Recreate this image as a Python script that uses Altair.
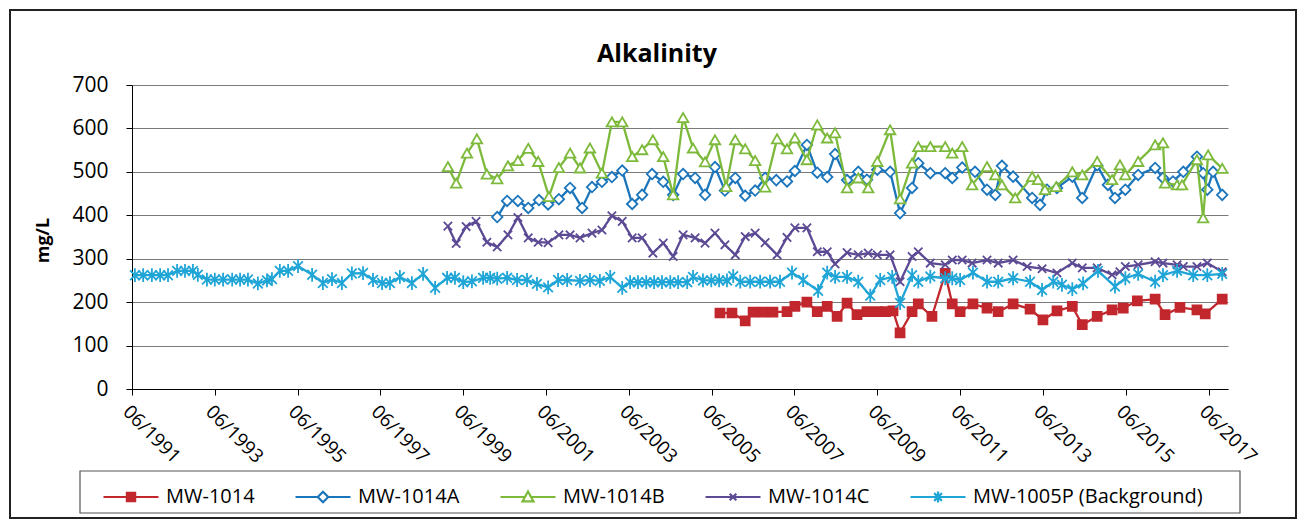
import altair as alt
import pandas as pd

FONT = "Open Sans"

chart_title = "Alkalinity"
series_names = ["MW-1014", "MW-1014A", "MW-1014B", "MW-1014C", "MW-1005P (Background)"]
series_colors = ["#C1272D", "#1B75BB", "#7DBA3C", "#5C4A94", "#1FA5D6"]

tick_years = [1991.5, 1993.5, 1995.5, 1997.5, 1999.5, 2001.5, 2003.5, 2005.5,
              2007.5, 2009.5, 2011.5, 2013.5, 2015.5, 2017.5]
y_ticks = [0, 100, 200, 300, 400, 500, 600, 700]

# MW-1014 (red squares)
mw1014_year = [2005.70, 2005.99, 2006.31, 2006.50, 2006.74, 2006.98, 2007.32, 2007.51, 2007.80,
               2008.05, 2008.29, 2008.53, 2008.77, 2009.01, 2009.25, 2009.50, 2009.70, 2009.88,
               2010.05, 2010.34, 2010.49, 2010.82, 2011.14, 2011.31, 2011.50, 2011.81, 2012.15,
               2012.42, 2012.78, 2013.19, 2013.50, 2013.84, 2014.21, 2014.45, 2014.81, 2015.17,
               2015.44, 2015.78, 2016.21, 2016.45, 2016.81, 2017.22, 2017.42, 2017.83]
mw1014_val = [175, 175, 157, 177, 177, 177, 178, 190, 200,
              178, 190, 167, 198, 171, 178, 178, 178, 180,
              129, 178, 196, 167, 266, 196, 178, 196, 186,
              178, 196, 184, 159, 180, 190, 148, 167, 182,
              186, 203, 207, 171, 188, 182, 173, 207]

# MW-1014A (blue diamonds)
mw1014a_year = [2000.32, 2000.56, 2000.82, 2001.07, 2001.33, 2001.55, 2001.81, 2002.08, 2002.37,
                2002.61, 2002.85, 2003.09, 2003.34, 2003.58, 2003.82, 2004.06, 2004.33, 2004.57,
                2004.81, 2005.10, 2005.34, 2005.58, 2005.82, 2006.07, 2006.31, 2006.55, 2006.79,
                2007.06, 2007.32, 2007.51, 2007.80, 2008.05, 2008.29, 2008.48, 2008.77, 2009.04,
                2009.25, 2009.50, 2009.81, 2010.05, 2010.34, 2010.49, 2010.78, 2011.14, 2011.31,
                2011.55, 2011.86, 2012.15, 2012.35, 2012.51, 2012.78, 2013.24, 2013.43, 2013.60,
                2013.84, 2014.21, 2014.45, 2014.81, 2015.07, 2015.24, 2015.49, 2015.80, 2016.21,
                2016.40, 2016.64, 2016.89, 2017.22, 2017.37, 2017.47, 2017.61, 2017.83]
mw1014a_val = [396, 433, 433, 417, 435, 425, 437, 463, 417,
               465, 477, 488, 503, 426, 447, 495, 477, 447,
               495, 486, 447, 511, 457, 486, 445, 457, 486,
               481, 478, 502, 562, 498, 488, 541, 481, 500,
               482, 505, 500, 405, 463, 520, 497, 497, 486,
               510, 500, 459, 447, 514, 489, 440, 424, 459,
               463, 489, 440, 515, 470, 440, 459, 493, 509,
               486, 478, 500, 535, 497, 459, 500, 447]

# MW-1014B (green triangles)
mw1014b_year = [1999.13, 1999.33, 1999.59, 1999.83, 2000.07, 2000.32, 2000.58, 2000.82, 2001.07,
                2001.31, 2001.57, 2001.81, 2002.08, 2002.32, 2002.56, 2002.85, 2003.09, 2003.34,
                2003.58, 2003.82, 2004.08, 2004.33, 2004.57, 2004.81, 2005.05, 2005.34, 2005.58,
                2005.85, 2006.07, 2006.31, 2006.55, 2006.79, 2007.08, 2007.32, 2007.51, 2007.80,
                2008.05, 2008.29, 2008.48, 2008.77, 2009.04, 2009.28, 2009.50, 2009.81, 2010.05,
                2010.34, 2010.49, 2010.78, 2011.14, 2011.31, 2011.55, 2011.79, 2012.15, 2012.35,
                2012.51, 2012.83, 2013.24, 2013.38, 2013.55, 2013.82, 2014.21, 2014.45, 2014.81,
                2015.17, 2015.36, 2015.49, 2015.80, 2016.21, 2016.40, 2016.45, 2016.74, 2016.86,
                2017.22, 2017.37, 2017.49, 2017.83]
mw1014b_val = [512, 474, 543, 576, 495, 484, 514, 526, 554,
               524, 443, 510, 543, 509, 555, 497, 615, 615,
               535, 551, 574, 535, 447, 625, 555, 523, 574,
               466, 574, 553, 526, 465, 576, 553, 578, 528,
               608, 578, 590, 463, 486, 463, 524, 597, 438,
               520, 558, 558, 558, 543, 558, 470, 512, 493,
               470, 440, 489, 482, 459, 466, 500, 493, 524,
               482, 516, 493, 524, 562, 567, 474, 470, 470,
               528, 394, 539, 508]

# MW-1014C (purple x)
mw1014c_year = [1999.13, 1999.33, 1999.57, 1999.81, 2000.07, 2000.32, 2000.58, 2000.82, 2001.07,
                2001.31, 2001.55, 2001.81, 2002.08, 2002.32, 2002.61, 2002.85, 2003.09, 2003.34,
                2003.58, 2003.82, 2004.08, 2004.33, 2004.57, 2004.81, 2005.10, 2005.34, 2005.58,
                2005.82, 2006.07, 2006.31, 2006.55, 2006.79, 2007.08, 2007.32, 2007.51, 2007.80,
                2008.05, 2008.29, 2008.48, 2008.77, 2009.04, 2009.28, 2009.50, 2009.81, 2010.05,
                2010.34, 2010.49, 2010.78, 2011.14, 2011.31, 2011.55, 2011.79, 2012.15, 2012.42,
                2012.78, 2013.12, 2013.48, 2013.84, 2014.21, 2014.45, 2014.81, 2015.17, 2015.36,
                2015.49, 2015.80, 2016.21, 2016.40, 2016.74, 2016.89, 2017.22, 2017.47, 2017.83]
mw1014c_val = [375, 335, 374, 386, 338, 327, 355, 395, 348,
               338, 337, 355, 355, 348, 359, 366, 399, 386,
               348, 348, 313, 336, 305, 355, 348, 336, 359,
               332, 309, 351, 359, 337, 309, 349, 371, 371,
               316, 316, 288, 314, 309, 313, 309, 309, 247,
               305, 316, 290, 286, 297, 297, 290, 297, 290,
               297, 282, 277, 267, 290, 279, 279, 263, 270,
               282, 286, 293, 290, 286, 282, 282, 290, 270]

# MW-1005P (Background) (cyan asterisks)
mw1005p_year = [1991.57, 1991.77, 1991.98, 1992.18, 1992.37, 1992.59, 1992.78, 1992.97, 1993.09,
                1993.31, 1993.50, 1993.70, 1993.92, 1994.11, 1994.30, 1994.54, 1994.76, 1994.88,
                1995.07, 1995.27, 1995.51, 1995.85, 1996.11, 1996.33, 1996.57, 1996.81, 1997.08,
                1997.32, 1997.54, 1997.73, 1997.97, 1998.26, 1998.53, 1998.82, 1999.11, 1999.30,
                1999.50, 1999.71, 1999.98, 2000.15, 2000.32, 2000.56, 2000.80, 2001.04, 2001.28,
                2001.55, 2001.79, 2002.01, 2002.32, 2002.56, 2002.80, 2003.05, 2003.34, 2003.53,
                2003.72, 2003.92, 2004.11, 2004.30, 2004.50, 2004.69, 2004.91, 2005.05, 2005.29,
                2005.49, 2005.68, 2005.87, 2006.02, 2006.19, 2006.43, 2006.67, 2006.91, 2007.15,
                2007.44, 2007.71, 2008.07, 2008.29, 2008.48, 2008.77, 2009.04, 2009.33, 2009.57,
                2009.86, 2010.05, 2010.34, 2010.49, 2010.78, 2011.14, 2011.31, 2011.50, 2011.81,
                2012.15, 2012.42, 2012.78, 2013.19, 2013.48, 2013.75, 2013.96, 2014.21, 2014.47,
                2014.83, 2015.24, 2015.49, 2015.80, 2016.21, 2016.40, 2016.74, 2017.13, 2017.47,
                2017.83]
mw1005p_val = [262, 262, 262, 262, 262, 272, 272, 272, 263,
               252, 252, 252, 252, 252, 252, 243, 250, 253,
               272, 272, 283, 263, 244, 253, 244, 266, 267,
               251, 244, 244, 258, 244, 265, 233, 256, 256,
               246, 248, 256, 256, 254, 256, 251, 251, 242,
               234, 251, 251, 249, 251, 249, 258, 233, 246,
               246, 246, 246, 246, 246, 246, 246, 258, 250,
               250, 250, 250, 260, 247, 247, 247, 247, 247,
               268, 251, 226, 268, 258, 258, 247, 215, 251,
               258, 198, 262, 247, 259, 255, 255, 251, 268,
               247, 247, 255, 247, 228, 247, 240, 230, 243,
               272, 236, 255, 265, 247, 262, 272, 262, 262,
               265]

series_years = [mw1014_year, mw1014a_year, mw1014b_year, mw1014c_year, mw1005p_year]
series_vals = [mw1014_val, mw1014a_val, mw1014b_val, mw1014c_val, mw1005p_val]

# marker styles (style only)
ASTERISK = "M-0.7,-0.7L0.7,0.7M-0.7,0.7L0.7,-0.7M0,-1V1"
XMARK = "M-1,-1L1,1M-1,1L1,-1"
marker_shapes = ["square", "diamond", "triangle-up", XMARK, ASTERISK]
marker_sizes = [80, 110, 110, 70, 190]
marker_fills = ["#C1272D", "white", "white", "transparent", "transparent"]

# legend symbols: line segment + marker
leg_paths = [
    "M-1,0H1M-0.15,-0.15H0.15V0.15H-0.15Z",
    "M-1,0H-0.19M0.19,0H1M0,-0.19L0.19,0L0,0.19L-0.19,0Z",
    "M-1,0H-0.11M0.11,0H1M0,-0.2L0.2,0.16H-0.2Z",
    "M-1,0H1M-0.12,-0.12L0.12,0.12M-0.12,0.12L0.12,-0.12",
    "M-1,0H1M-0.14,-0.14L0.14,0.14M-0.14,0.14L0.14,-0.14M0,-0.2V0.2",
]

legend_def = alt.Legend(
    title=None, orient="none", legendX=-30, legendY=383, direction="horizontal",
    symbolSize=3025, symbolStrokeWidth=2.2, symbolOpacity=1, labelFontSize=20, labelFont=FONT,
    labelColor="black", labelOffset=6, columnPadding=36, padding=0, labelLimit=400,
)

x_enc = alt.X(
    "year:Q",
    scale=alt.Scale(domain=[1991.5, 2017.97], nice=False, zero=False),
    axis=alt.Axis(values=tick_years, labelExpr="'06/' + floor(datum.value)", title=None,
                  grid=False, labelAngle=45, labelFontSize=19, labelFont=FONT,
                  labelColor="black", tickSize=6, tickColor="black", domainColor="black",
                  labelPadding=7, labelOverlap=False),
)
y_enc = alt.Y(
    "value:Q",
    scale=alt.Scale(domain=[0, 700], nice=False),
    axis=alt.Axis(values=y_ticks, title="mg/L", titleFont=FONT, titleFontSize=18,
                  titleFontWeight="bold", titleColor="black", titleX=-89, titleY=155,
                  titleBaseline="middle", titleAngle=-90,
                  grid=True, gridColor="#7a7a7a", gridWidth=1,
                  labelFontSize=21, labelFont=FONT, labelColor="black", labelPadding=18,
                  tickSize=6, tickColor="black", domainColor="black"),
)

W, H = 1096, 304
PL, PT = 124, 77
TOTAL_W, TOTAL_H = 1290, 512

frame_rect = alt.Chart(alt.Data(values=[{"k": 1}])).mark_rect(
    fill="white", fillOpacity=0, stroke="#222", strokeWidth=2
).encode(x=alt.value(-PL + 2), x2=alt.value(TOTAL_W - PL - 2),
         y=alt.value(-PT + 2), y2=alt.value(TOTAL_H - PT - 2))

legend_box = alt.Chart(alt.Data(values=[{"k": 1}])).mark_rect(
    fill="white", fillOpacity=0, stroke="#555", strokeWidth=1.2
).encode(x=alt.value(-52), x2=alt.value(1108), y=alt.value(386), y2=alt.value(428))

title_layer = alt.Chart(alt.Data(values=[{"t": chart_title}])).mark_text(
    font=FONT, fontSize=25, fontWeight="bold", color="black", align="center", baseline="middle"
).encode(text="t:N", x=alt.value(W / 2 - 23), y=alt.value(-31))

# legend-only layer (invisible points) carrying the merged color/shape/fill legend
legend_df = pd.DataFrame({"series": series_names, "year": [tick_years[0]] * 5, "value": [y_ticks[0]] * 5})
legend_layer = alt.Chart(legend_df).mark_point(filled=False, opacity=0).encode(
    x=x_enc, y=y_enc,
    color=alt.Color("series:N", scale=alt.Scale(domain=series_names, range=series_colors),
                    legend=legend_def),
    shape=alt.Shape("series:N", scale=alt.Scale(domain=series_names, range=leg_paths),
                    legend=legend_def),
    fill=alt.Fill("series:N", scale=alt.Scale(domain=series_names, range=marker_fills),
                  legend=legend_def),
)

layers = [frame_rect, legend_box, title_layer, legend_layer]
for name, yrs, vals, shp, sz, fl, col in zip(series_names, series_years, series_vals,
                                             marker_shapes, marker_sizes, marker_fills,
                                             series_colors):
    df = pd.DataFrame({"year": yrs, "value": vals, "series": name})
    base = alt.Chart(df)
    line = base.mark_line(strokeWidth=2.3, color=col).encode(x=x_enc, y=y_enc)
    pts = base.mark_point(shape=shp, size=sz, fill=fl, stroke=col, strokeWidth=1.8,
                          opacity=1, filled=True).encode(x=x_enc, y=y_enc)
    layers += [line, pts]

chart = alt.layer(*layers).properties(
    width=W, height=H,
    padding={"left": PL, "top": PT, "right": TOTAL_W - PL - W, "bottom": TOTAL_H - PT - H},
    autosize=alt.AutoSizeParams(type="none"),
    background="white",
).configure_view(stroke=None)

chart.save("out.html", embed_options={"renderer": "svg", "actions": False})
